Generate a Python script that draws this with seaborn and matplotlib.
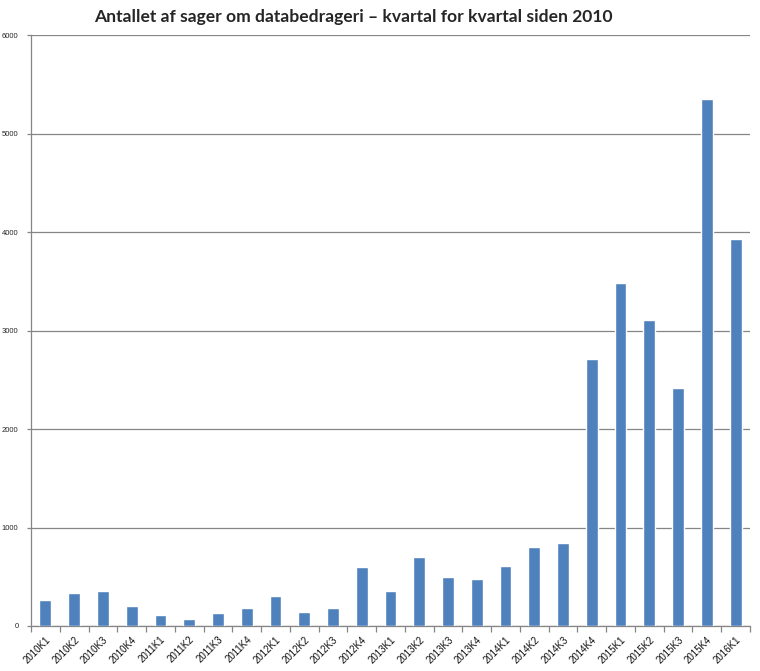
import matplotlib
matplotlib.use("Agg")
import matplotlib.pyplot as plt
import seaborn as sns
import pandas as pd
import numpy as np

categories = ["2010K1", "2010K2", "2010K3", "2010K4",
              "2011K1", "2011K2", "2011K3", "2011K4",
              "2012K1", "2012K2", "2012K3", "2012K4",
              "2013K1", "2013K2", "2013K3", "2013K4",
              "2014K1", "2014K2", "2014K3", "2014K4",
              "2015K1", "2015K2", "2015K3", "2015K4",
              "2016K1"]
values = [260, 340, 360, 200,
          115, 75, 135, 185,
          300, 147, 178, 603,
          359, 704, 501, 481,
          612, 805, 846, 2711,
          3482, 3107, 2416, 5350,
          3929]
yticks = [0, 1000, 2000, 3000, 4000, 5000, 6000]
title = "Antallet af sager om databedrageri \u2013 kvartal for kvartal siden 2010"

sns.set_theme(style="white")
plt.rcParams['font.family'] = ['Liberation Sans', 'DejaVu Sans']

df = pd.DataFrame({"kvartal": categories, "antal": values})

fig = plt.figure(figsize=(7.6, 6.71), dpi=100)
ax = fig.add_axes([31/760, 45/671, (750-31)/760, (626-35)/671])

sns.barplot(data=df, x="kvartal", y="antal", color="#4F81BD", saturation=1,
            width=0.41, ax=ax, zorder=3)

ax.set_xlim(-0.5, len(categories) - 0.5)
ax.set_ylim(0, 6000)
ax.set_yticks(yticks)
ax.set_yticklabels([str(t) for t in yticks], fontsize=5.5)
ax.yaxis.grid(True, color="#868686", linewidth=0.9, zorder=0)
ax.set_axisbelow(True)

ax.set_xticks(range(len(categories)))
ax.set_xticklabels(categories, rotation=45, ha="right", rotation_mode="anchor",
                   fontsize=7, color="#111111")
ax.set_xticks(np.arange(-0.5, len(categories), 1.0), minor=True)
ax.tick_params(axis="x", which="major", length=0, pad=6)
ax.tick_params(axis="x", which="minor", length=4, color="#868686", width=0.9,
               direction="out", bottom=True)
ax.tick_params(axis="y", which="major", length=3, color="#868686", width=0.9,
               direction="out", left=True, pad=6)

ax.set_xlabel("")
ax.set_ylabel("")
for s in ["top", "right"]:
    ax.spines[s].set_visible(False)
for s in ["left", "bottom"]:
    ax.spines[s].set_color("#868686")
    ax.spines[s].set_linewidth(0.9)

fig.text(353/760, 1 - 17/671, title, ha="center", va="center",
         fontsize=12.6, fontweight="bold", family=["Lato", "DejaVu Sans"])

fig.savefig("out.png", dpi=100, facecolor="white")
